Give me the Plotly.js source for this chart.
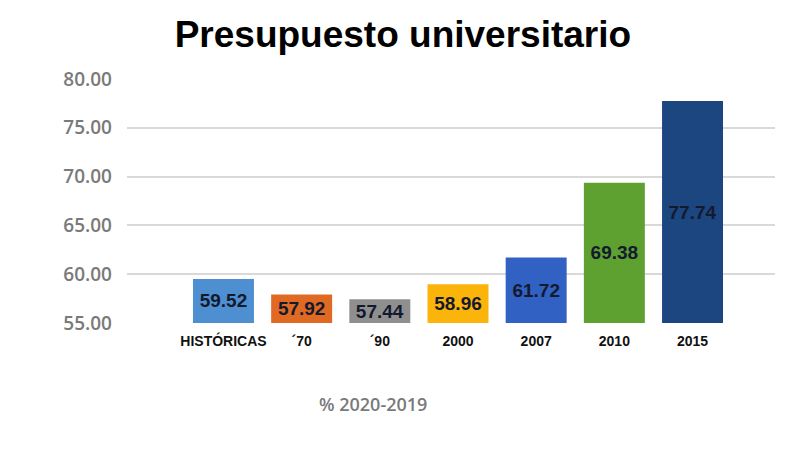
<!DOCTYPE html>
<html>
<head>
<meta charset="utf-8">
<script src="https://cdn.plot.ly/plotly-3.0.1.min.js"></script>
<style>html,body{margin:0;padding:0;background:#fff;}#chart{width:801px;height:458px;}</style>
</head>
<body>
<div id="chart"></div>
<script>
const categories = ["HISTÓRICAS", "´70", "´90", "2000", "2007", "2010", "2015"];
const values = [59.52, 57.92, 57.44, 58.96, 61.72, 69.38, 77.74];
const labels = ["59.52", "57.92", "57.44", "58.96", "61.72", "69.38", "77.74"];
const colors = ["#4e8fd1", "#e06a23", "#8f8f8f", "#fbb40a", "#3061c3", "#5ea131", "#1b467f"];
const yTicks = [55, 60, 65, 70, 75, 80];

const trace = {
  type: "bar",
  x: categories,
  y: values.map(v => v - 55),
  base: 55,
  width: 0.78,
  marker: {color: colors},
  text: labels,
  textposition: "inside",
  insidetextanchor: "middle",
  textangle: 0,
  constraintext: "none",
  textfont: {family: "Liberation Sans, Arial, sans-serif", size: 19, color: "#141a2e", weight: "bold"},
  hoverinfo: "none",
  cliponaxis: false
};

const layout = {
  width: 801, height: 458,
  margin: {l: 127, r: 26, t: 79, b: 135},
  paper_bgcolor: "#ffffff",
  plot_bgcolor: "#ffffff",
  showlegend: false,
  title: {
    text: "<b>Presupuesto universitario</b>",
    x: 0.503, xanchor: "center", y: 0.925, yanchor: "middle",
    font: {family: "Liberation Sans, Arial, sans-serif", size: 37, color: "#000000"}
  },
  xaxis: {
    type: "category",
    range: [-1.234, 7.055],
    showgrid: false, zeroline: false, showline: false,
    ticks: "",
    tickfont: {family: "Liberation Sans, Arial, sans-serif", size: 14, color: "#111111", weight: "bold"},
    ticklabelstandoff: 8
  },
  yaxis: {
    range: [55, 80],
    tickvals: yTicks,
    tickformat: ".2f",
    showgrid: true, gridcolor: "#d9d9d9", gridwidth: 2,
    zeroline: false, showline: false,
    ticks: "",
    tickfont: {family: "Open Sans, DejaVu Sans, sans-serif", size: 19, color: "#7a7a7a", weight: 600},
    ticklabelstandoff: 14
  },
  annotations: [{
    text: "% 2020-2019",
    xref: "paper", yref: "paper",
    x: 0.38, y: -0.33, xanchor: "center", yanchor: "middle",
    showarrow: false,
    font: {family: "Open Sans, DejaVu Sans, sans-serif", size: 18, color: "#7a7a7a", weight: 600}
  }]
};

Plotly.newPlot("chart", [trace], layout, {staticPlot: true, displayModeBar: false});
</script>
</body>
</html>
